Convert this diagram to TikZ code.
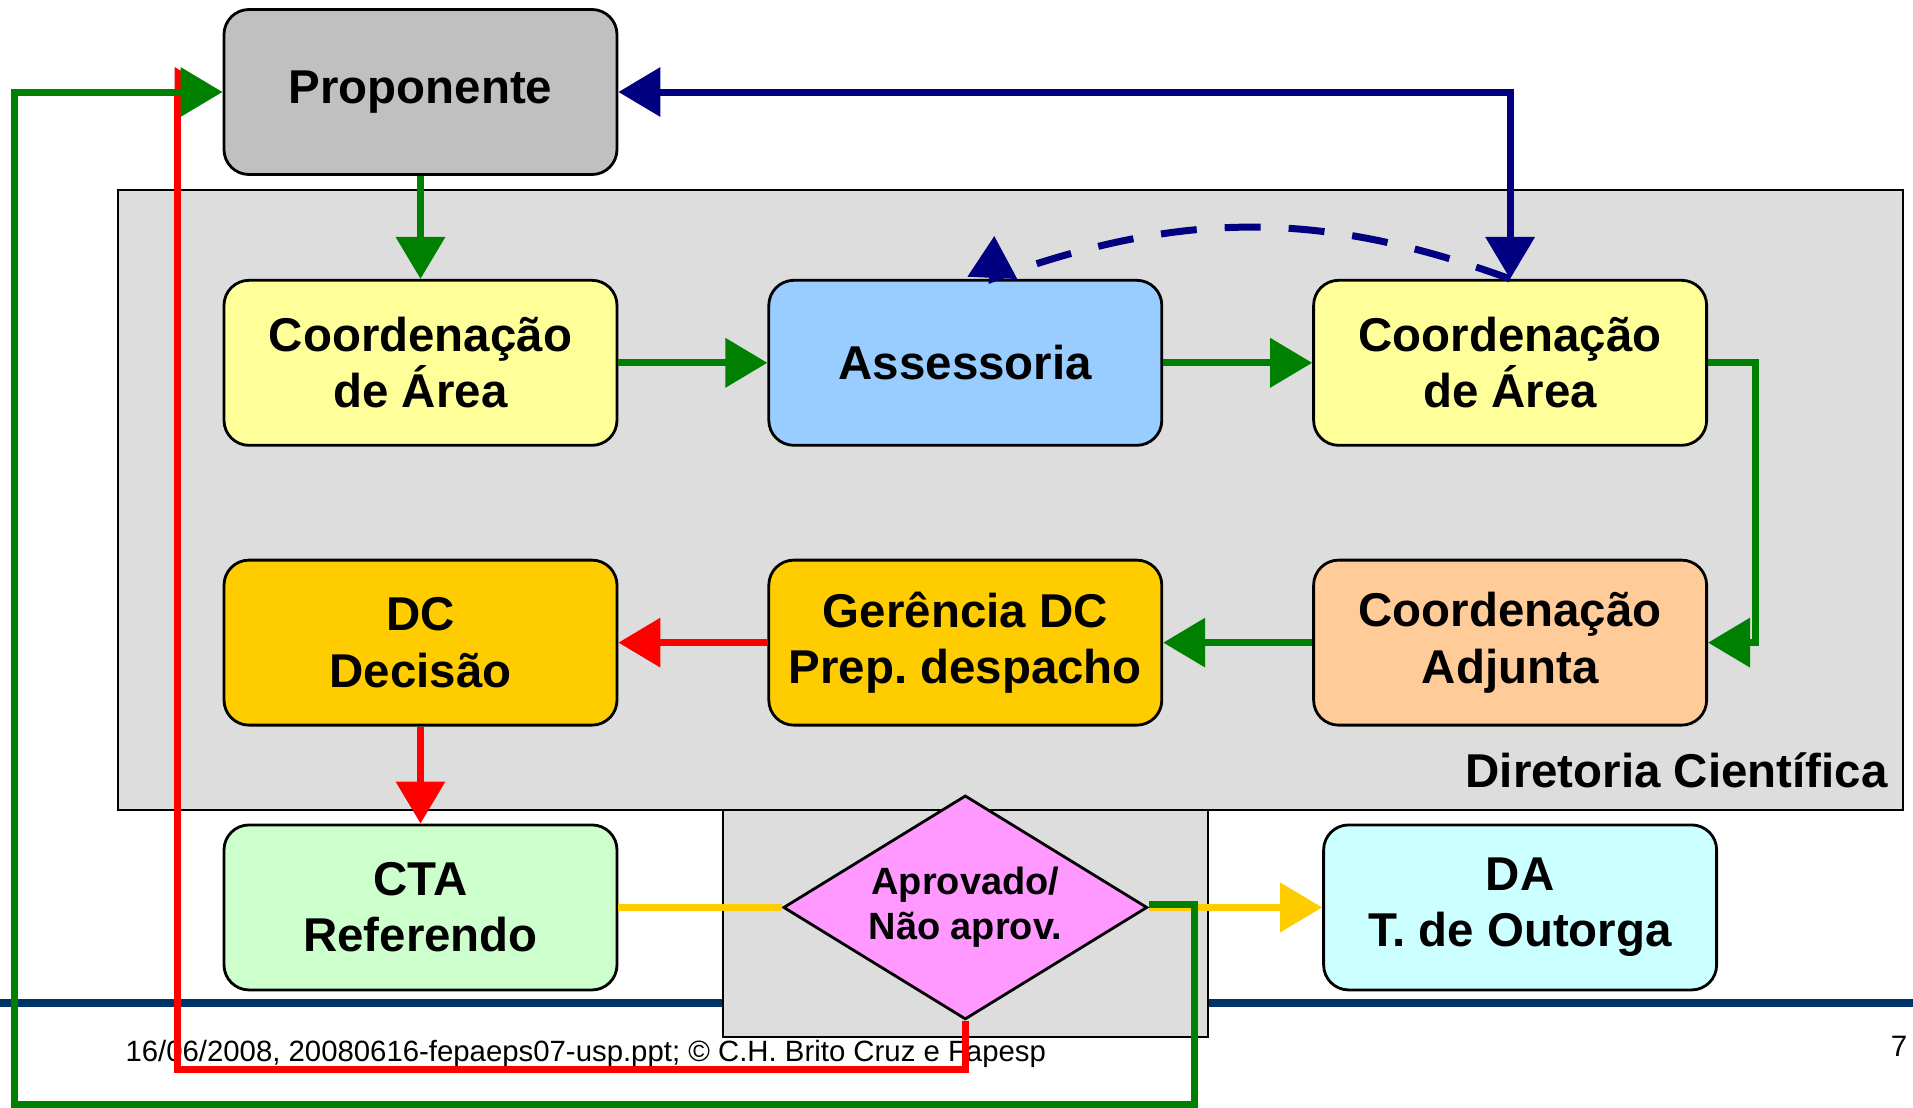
\documentclass[tikz,border=0pt]{standalone}
\usepackage{fontspec}
\setmainfont{Liberation Sans}
\usetikzlibrary{arrows.meta,positioning,shapes.geometric}
\definecolor{propgray}{HTML}{C0C0C0}
\definecolor{areayellow}{HTML}{FFFF99}
\definecolor{assblue}{HTML}{99CCFF}
\definecolor{dcgold}{HTML}{FFCC00}
\definecolor{adjpeach}{HTML}{FFCC99}
\definecolor{ctagreen}{HTML}{CCFFCC}
\definecolor{dacyan}{HTML}{CCFFFF}
\definecolor{decpink}{HTML}{FF99FF}
\definecolor{panelgray}{HTML}{DDDDDD}
\definecolor{footblue}{HTML}{003366}
\definecolor{flowgreen}{HTML}{008000}
\definecolor{flowred}{HTML}{FF0000}
\definecolor{flowyellow}{HTML}{FFCC00}
\definecolor{flownavy}{HTML}{000080}

\begin{document}
\frenchspacing
\begin{tikzpicture}[line width=0.07cm,node distance=1.49cm,
  stage/.style={draw=black,line width=0.8pt,rounded corners=0.25cm,minimum width=3.93cm,minimum height=1.65cm,align=center,font=\fontsize{13.5}{16}\selectfont\bfseries},
  decision/.style={diamond,aspect=1.65,draw=black,line width=0.8pt,fill=decpink,minimum width=3.64cm,minimum height=2.24cm,inner sep=0pt,align=center,font=\fontsize{10.8}{12.8}\selectfont\bfseries},
  panel/.style={draw=black,line width=0.7pt,fill=panelgray},
  arrowtip/.style={-{Triangle[length=0.42cm,width=0.48cm]}},
  grn/.style={draw=flowgreen,arrowtip},
  rd/.style={draw=flowred,arrowtip},
  ylw/.style={draw=flowyellow},
  nvy/.style={draw=flownavy}]
  \useasboundingbox (0,0) rectangle (19.13,-11.08);

  \draw[panel] (1.18,-1.90) rectangle (19.03,-8.10);
  \draw[footblue,line width=0.08cm] (0,-10.03) -- (19.13,-10.03);
  \draw[panel] (7.23,-8.10) rectangle (12.08,-10.37);

  \node[stage,fill=propgray] (prop) at (4.205,-0.92) {Proponente};
  \node[stage,fill=areayellow] (ca1) [below=1.03cm of prop] {Coordenação\\de Área};
  \node[stage,fill=assblue] (ass) [right=of ca1] {Assessoria};
  \node[stage,fill=areayellow] (ca2) [right=of ass] {Coordenação\\de Área};
  \node[stage,fill=dcgold] (dc) [below=1.12cm of ca1] {DC\\Decisão};
  \node[stage,fill=dcgold] (ger) [right=of dc] {Gerência DC\\Prep. despacho};
  \node[stage,fill=adjpeach] (adj) [right=of ger] {Coordenação\\Adjunta};
  \node[stage,fill=ctagreen] (cta) [below=0.97cm of dc] {CTA\\Referendo};
  \node[stage,fill=dacyan] (da) [below=0.97cm of adj,xshift=0.1cm] {DA\\T. de Outorga};
  \node[decision] (dia) at (ger |- cta) {Aprovado/\\Não aprov.};

  \node[anchor=east,inner sep=0pt,font=\fontsize{13.5}{16}\selectfont\bfseries] (dir) at (18.91,-7.70) {Diretoria Científica};
  \node[anchor=west,inner sep=0pt,font=\fontsize{8.35}{10}\selectfont] (foot) at (1.22,-10.54) {16/06/2008, 20080616-fepaeps07-usp.ppt; © C.H. Brito Cruz e Fapesp};
  \node[font=\fontsize{8.4}{10}\selectfont] (page) at (18.99,-10.46) {7};

  \coordinate (redlow) at (1.77,-10.69);
  \coordinate (grnlow) at (11.94,-11.04);
  \coordinate (grnleft) at (0.146,-11.04);

  \draw[grn] (prop.south) -- (ca1.north);
  \draw[grn] (ca1.east) -- (ass.west);
  \draw[grn] (ass.east) -- (ca2.west);
  \draw[grn] (ca2.east) -- ++(0.47,0) |- (adj.east);
  \draw[grn] (adj.west) -- (ger.east);
  \draw[rd] (ger.west) -- (dc.east);
  \draw[rd] (dc.south) -- (cta.north);
  \draw[ylw] (cta.east) -- (dia.west);
  \draw[ylw,arrowtip] (dia.east) -- (da.west);
  \draw[nvy,{Triangle[length=0.42cm,width=0.48cm]}-{Triangle[length=0.42cm,width=0.48cm]}] (prop.east) -| (ca2.north);
  \draw[nvy,dash pattern=on 0.36cm off 0.28cm,arrowtip] (ca2.north) to[out=160,in=20] ([xshift=0.27cm]ass.north) -- ++(0.02,0.43);
  \draw[rd] (dia.south) |- (redlow) |- ([xshift=-0.06cm]prop.west);
  \draw[grn] ([yshift=0.03cm]dia.east) -| (grnlow) -- (grnleft) |- (prop.west);
\end{tikzpicture}
\end{document}
